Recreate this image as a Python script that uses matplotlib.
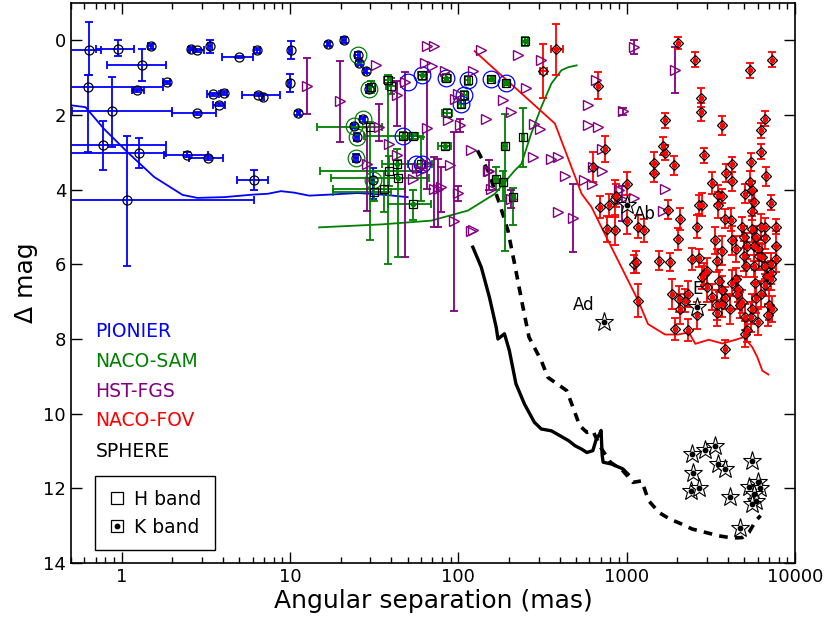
# Companion detections around the target: delta mag vs angular separation
# for the PIONIER, NACO-SAM, HST-FGS, NACO-FOV and SPHERE data sets.

import numpy as np
import matplotlib
matplotlib.use("Agg")
import matplotlib.pyplot as plt
from matplotlib.lines import Line2D

BLUE = "#0000ff"
GREEN = "#008000"
PURPLE = "#800080"
RED = "#ff0000"

# --- PIONIER (H band, open circles) ---
pio_sep = [0.64, 0.95, 1.49, 1.32, 0.63, 1.24, 1.85, 0.88, 2.79, 0.77,
           1.26, 2.46, 3.28, 1.08, 6.13, 2.57, 2.82, 3.34, 4.99, 6.36,
           10.1, 3.49, 4.06, 3.79, 6.42, 6.92, 10.0, 11.2, 16.9, 21.0,
           25.3, 25.8, 28.1, 29.6, 27.0, 24.0, 25.0, 24.6, 31.0]
pio_dmag = [0.25, 0.22, 0.16, 0.65, 1.25, 1.34, 1.12, 1.90, 1.95, 2.80,
            3.01, 3.06, 3.15, 4.29, 3.73, 0.22, 0.27, 0.16, 0.45, 0.27,
            0.27, 1.45, 1.41, 1.72, 1.46, 1.52, 1.14, 1.95, 0.09, 0.00,
            0.38, 0.61, 0.82, 1.30, 2.12, 2.30, 2.59, 3.15, 3.75]
pio_sep_lo = [0.44, 0.70, 1.44, 0.82, 0.40, 1.15, 1.75, 0.51, 2.00, 0.45,
              0.45, 1.79, 2.52, 0.45, 4.82, 2.50, 2.55, 3.25, 3.93, 6.10,
              9.9, 3.20, 3.90, 3.50, 5.22, 6.80, 9.8, 11.0, 16.5, 20.5,
              24.5, 25.3, 27.5, 28.5, 26.0, 23.5, 24.3, 24.0, 30.5]
pio_sep_hi = [0.75, 1.18, 1.54, 1.83, 1.75, 1.35, 1.95, 2.00, 3.63, 1.83,
              1.83, 3.24, 4.00, 6.10, 7.45, 2.65, 3.10, 3.45, 6.03, 6.60,
              10.3, 3.80, 4.20, 4.10, 8.70, 7.00, 10.2, 11.4, 17.3, 21.5,
              26.0, 26.3, 28.7, 30.5, 28.0, 24.5, 25.7, 25.2, 31.5]
pio_dmag_lo = [-0.49, 0.00, 0.10, 0.22, 0.94, 1.30, 1.08, 0.97, 1.91, 2.16,
               2.61, 3.00, 3.10, 2.55, 3.46, 0.18, 0.22, -0.02, 0.42, 0.20,
               0.03, 1.40, 1.36, 1.68, 1.42, 1.52, 0.90, 1.90, 0.04, -0.08,
               0.30, 0.55, 0.76, 1.20, 2.05, 2.25, 2.48, 3.05, 3.43]
pio_dmag_hi = [0.94, 0.42, 0.22, 1.09, 2.99, 1.38, 1.16, 2.86, 1.99, 3.47,
               3.41, 3.12, 3.20, 6.05, 4.01, 0.26, 0.32, 0.34, 0.48, 0.34,
               0.51, 1.50, 1.46, 1.76, 1.50, 1.52, 1.38, 2.00, 0.14, 0.08,
               0.46, 0.67, 0.88, 1.40, 2.20, 2.35, 2.70, 3.25, 4.24]

# PIONIER points also seen by NACO-SAM (green rings) and the reverse (blue rings)
ring_green_sep = [25.3, 29.6, 27.0, 24.0, 25.0, 24.6, 31.0]
ring_green_dmag = [0.38, 1.30, 2.12, 2.30, 2.59, 3.15, 3.75]
ring_blue_sep = [61, 50, 85, 114, 108, 104, 157, 193, 47, 56, 61]
ring_blue_dmag = [0.94, 1.12, 1.00, 1.07, 1.47, 1.70, 1.03, 1.13, 2.55, 3.31, 3.31]

# --- NACO-SAM (squares) ---
sam_sep = [38, 40, 30, 47, 54, 43, 38.5, 44, 36, 54,
           60, 61, 85, 114, 108, 104, 86, 83, 157, 193,
           250, 241, 190, 168, 185, 211, 30.5, 31.5]
sam_dmag = [1.05, 1.22, 2.32, 2.55, 2.57, 3.32, 3.49, 3.70, 3.98, 4.38,
            3.31, 0.94, 1.00, 1.07, 1.47, 1.70, 1.95, 2.84, 1.03, 1.13,
            0.02, 2.59, 2.84, 3.71, 3.80, 4.20, 1.25, 4.05]
sam_k = [0, 0, 0, 1, 0, 1, 0, 1, 0, 1,
         0, 1, 1, 0, 0, 0, 0, 1, 1, 1,
         1, 0, 0, 0, 1, 1, 0, 0]
sam_sep_lo = [36, 37, 14.5, 27.5, 50, 35, 15, 17.5, 18, 38,
              50, 58, 80, 110, 104, 100, 80, 76, 150, 186,
              240, 238, 185, 163, 180, 205, 29, 18]
sam_sep_hi = [40, 43, 35, 62, 58, 55, 60, 67, 48, 69,
              70, 64, 90, 118, 112, 108, 92, 90, 164, 200,
              260, 244, 195, 173, 190, 217, 32, 40]
sam_dmag_lo = [0.94, 1.00, 2.20, 2.45, 2.50, 2.90, 3.10, 3.20, 3.50, 4.00,
               2.60, 0.85, 0.90, 0.95, 1.35, 1.60, 1.85, 2.75, 0.95, 1.05,
               -0.10, 1.80, 1.96, 3.40, 3.50, 3.96, 1.10, 3.80]
sam_dmag_hi = [5.98, 1.45, 5.35, 2.65, 2.65, 3.70, 3.90, 5.80, 4.60, 4.80,
               4.30, 1.05, 1.10, 1.20, 1.60, 1.80, 2.05, 2.93, 1.10, 1.20,
               0.14, 3.40, 5.63, 4.00, 4.30, 4.94, 1.40, 4.30]

# --- HST-FGS (open triangles) ---
hst_sep = [12.7, 19.7, 32.6, 65, 72, 63, 70, 83, 122, 137,
           226, 253, 184, 206, 146, 102, 95, 99, 87, 65,
           43, 34, 39, 28.6, 43, 48, 54, 57, 60, 65,
           72, 79, 89, 94, 99, 122, 119, 153, 157, 206,
           283, 304, 277, 357, 390, 390, 1110, 1940, 311, 660,
           590, 950, 590, 680, 710, 430, 630, 710, 560, 620,
           1680, 480, 900, 940, 1100, 1650, 76, 119, 150]
hst_dmag = [1.21, 1.63, 0.67, 0.16, 0.16, 0.61, 0.70, 0.82, 0.82, 0.27,
            0.40, 1.27, 1.61, 1.92, 2.10, 2.28, 1.56, 1.43, 2.14, 2.34,
            1.47, 2.32, 2.77, 3.31, 3.07, 1.12, 3.71, 3.42, 3.51, 3.31,
            3.98, 3.93, 3.35, 4.83, 4.09, 5.09, 2.95, 3.49, 3.98, 4.24,
            2.23, 2.37, 3.13, 3.17, 3.13, 4.60, 0.18, 0.80, 0.54, 1.07,
            1.74, 1.88, 2.26, 2.31, 2.90, 3.64, 3.40, 3.49, 3.75, 3.84,
            3.98, 4.75, 4.00, 4.25, 4.22, 4.56, 3.98, 5.12, 3.49]
# HST-FGS error bars (lower / upper delta mag)
hst_bar_sep = [12.7, 19.7, 102, 43, 34, 28.6, 48, 65, 72, 79,
               94, 99, 153, 206, 1110, 1940, 950, 480, 940, 76]
hst_bar_lo = [0.46, 0.56, 2.10, 1.10, 1.70, 2.32, 0.85, 0.85, 3.13, 3.40,
              2.46, 3.90, 3.20, 4.00, 0.00, 0.18, 1.80, 3.84, 3.90, 3.17]
hst_bar_hi = [1.97, 2.73, 2.45, 2.30, 2.70, 4.56, 5.81, 3.98, 5.00, 4.60,
              7.24, 4.30, 4.00, 4.50, 0.37, 1.41, 2.00, 5.68, 4.85, 4.99]

# --- NACO-FOV (diamonds) ---
fov_sep = [380, 320, 680, 740, 630, 860, 760, 850, 850, 690,
           790, 1000, 1000, 1170, 1260, 1170, 1110, 2030, 2560, 5370,
           7310, 2760, 2760, 1680, 3700, 6620, 6260, 1650, 1680, 1460,
           1450, 1920, 2900, 4230, 3890, 4230, 3220, 5470, 6260, 6740,
           5400, 5580, 3500, 3700, 5060, 5680, 5580, 7200, 1750, 2080,
           2690, 2810, 3490, 3820, 4170, 2610, 4860, 6610, 7700, 2030,
           1560, 1800, 2460, 2700, 3330, 3700, 3450, 3010, 2900, 4240,
           4450, 5000, 5200, 5000, 5100, 5580, 5900, 5700, 6100, 5700,
           6600, 7200, 7700, 7700, 7200, 6600, 6300, 1860, 2040, 2210,
           2080, 2300, 1930, 2320, 2610, 3010, 3220, 3450, 3450, 3550,
           3700, 3700, 3850, 4100, 4200, 4450, 4600, 4500, 4700, 4860,
           5070, 5200, 5580, 5800, 5900, 6250, 6600, 6800, 7200, 7000,
           6400, 6000, 3850, 5070, 5500, 6000, 6900, 7300, 2810, 1140]
fov_dmag = [0.24, 0.83, 1.21, 2.90, 3.40, 4.16, 5.05, 5.09, 4.24, 4.47,
            4.42, 4.83, 3.84, 4.99, 5.09, 6.97, 5.99, 0.07, 0.52, 0.80,
            0.52, 1.54, 1.92, 2.14, 2.28, 2.10, 2.41, 2.83, 3.01, 3.28,
            3.55, 3.35, 3.08, 3.32, 3.55, 3.78, 3.82, 3.26, 2.99, 3.64,
            3.80, 4.02, 4.13, 4.17, 4.11, 4.33, 4.56, 4.35, 4.54, 4.78,
            4.40, 4.40, 4.40, 4.78, 4.80, 4.99, 4.99, 5.00, 4.99, 5.32,
            5.90, 5.94, 5.85, 5.83, 5.36, 5.63, 5.90, 6.17, 6.26, 5.36,
            5.58, 5.27, 5.50, 5.77, 6.04, 5.05, 5.27, 5.50, 5.77, 6.04,
            6.04, 6.22, 5.50, 5.85, 6.40, 5.30, 5.00, 6.79, 6.93, 6.97,
            7.19, 6.80, 7.73, 7.76, 7.37, 6.60, 6.88, 7.10, 7.30, 6.45,
            6.70, 7.05, 6.90, 7.20, 6.50, 6.40, 6.65, 6.80, 7.10, 7.00,
            7.42, 7.77, 7.20, 6.50, 6.90, 6.80, 6.55, 6.30, 6.00, 7.10,
            5.80, 5.60, 8.27, 7.86, 7.40, 7.55, 7.35, 7.20, 6.35, 5.94]
fov_err = [0.68, 0.72, 0.35, 0.35, 0.40, 0.30, 0.35, 0.40, 0.50, 0.30,
           0.30, 0.35, 0.30, 0.30, 0.30, 0.43, 0.25, 0.15, 0.20, 0.20,
           0.20, 0.25, 0.25, 0.20, 0.25, 0.20, 0.20, 0.25, 0.20, 0.30,
           0.25, 0.25, 0.20, 0.20, 0.25, 0.25, 0.30, 0.25, 0.20, 0.25,
           0.30, 0.25, 0.25, 0.20, 0.25, 0.30, 0.25, 0.20, 0.25, 0.30,
           0.25, 0.30, 0.35, 0.25, 0.30, 0.30, 0.25, 0.25, 0.20, 0.30,
           0.25, 0.25, 0.30, 0.25, 0.35, 0.40, 0.30, 0.35, 0.30, 0.40,
           0.35, 0.30, 0.35, 0.40, 0.30, 0.35, 0.30, 0.40, 0.35, 0.30,
           0.35, 0.30, 0.40, 0.35, 0.30, 0.30, 0.35, 0.40, 0.35, 0.30,
           0.40, 0.35, 0.30, 0.30, 0.35, 0.40, 0.35, 0.40, 0.35, 0.30,
           0.40, 0.35, 0.30, 0.40, 0.35, 0.30, 0.35, 0.40, 0.35, 0.30,
           0.35, 0.30, 0.40, 0.35, 0.40, 0.35, 0.30, 0.35, 0.30, 0.40,
           0.35, 0.30, 0.25, 0.35, 0.40, 0.35, 0.30, 0.35, 0.30, 0.30]
fov_k = [1, 0, 1, 1, 1, 1, 1, 1, 0, 1,
         1, 1, 1, 1, 1, 1, 0, 1, 1, 1,
         1, 1, 1, 1, 1, 1, 1, 1, 1, 1,
         1, 1, 1, 1, 1, 1, 1, 1, 1, 1,
         1, 1, 1, 1, 1, 1, 1, 1, 1, 1,
         1, 1, 1, 1, 1, 1, 1, 1, 1, 1,
         1, 1, 1, 1, 1, 1, 1, 1, 1, 1,
         1, 1, 1, 1, 1, 1, 1, 1, 1, 1,
         1, 1, 1, 1, 1, 1, 1, 1, 1, 1,
         1, 1, 1, 1, 1, 1, 1, 1, 1, 1,
         1, 1, 1, 1, 1, 1, 1, 1, 1, 1,
         1, 1, 1, 1, 1, 1, 1, 1, 1, 1,
         1, 1, 1, 1, 1, 1, 1, 1, 1, 1]
fov_xbar_sep = [380, 320]
fov_xbar_lo = [355, 305]
fov_xbar_hi = [420, 335]

# --- SPHERE (stars, K band) ---
sph_sep = [1000, 730, 2610, 2450, 2940, 3330, 3500, 3850, 5580, 2480,
           2420, 2680, 4120, 5330, 6060, 6240, 5700, 5850, 5580, 4700]
sph_dmag = [4.40, 7.55, 7.15, 11.08, 10.97, 10.86, 11.35, 11.48, 11.26, 11.60,
            12.06, 11.99, 12.22, 11.97, 11.84, 11.99, 12.15, 12.33, 12.42, 13.05]
star_names = ["Ab", "Ad", "E"]
star_label_sep = [1275, 552, 2650]
star_label_dmag = [4.65, 7.10, 6.66]

# --- detection limits ---
pio_curve_sep = [0.5, 0.61, 0.785, 1.08, 1.56, 2.30, 2.82, 4.06, 6.13, 7.38,
                 8.84, 10.6, 13.0, 17.5, 25.3, 34.8, 50]
pio_curve_dmag = [1.74, 1.79, 2.37, 2.99, 3.66, 4.14, 4.22, 4.20, 4.13, 4.11,
                  4.04, 4.08, 4.16, 4.13, 4.09, 4.13, 4.20]
sam_curve_sep = [14.9, 35, 69, 114, 165, 216, 237, 271, 311, 357, 410, 450, 505]
sam_curve_dmag = [5.01, 4.93, 4.83, 4.56, 4.11, 3.49, 3.31, 2.50, 1.79, 1.16, 0.80, 0.72, 0.67]
fov_curve_sep = [125, 375, 540, 619, 775, 1170, 1340, 1690, 2030, 2340,
                 2560, 3070, 3700, 4450, 4970, 5580, 5980, 6400, 6950]
fov_curve_dmag = [0.29, 2.23, 4.11, 4.47, 5.36, 6.97, 7.60, 7.88, 7.88, 7.82,
                  8.13, 8.02, 8.12, 8.02, 7.95, 8.22, 8.49, 8.85, 8.95]
sph_solid_sep = [122, 137, 153, 168, 172, 188, 201, 220, 247, 283,
                 311, 357, 391, 451, 494, 540, 580, 630, 660, 690,
                 705, 715, 725, 815, 950, 1020]
sph_solid_dmag = [5.54, 6.08, 6.88, 7.69, 8.00, 7.86, 8.31, 9.20, 9.74, 10.23,
                  10.41, 10.46, 10.56, 10.72, 10.86, 10.95, 11.04, 10.99, 10.68, 10.55,
                  10.45, 11.10, 11.30, 11.35, 11.48, 11.62]
sph_dash_sep = [130, 150, 176, 197, 216, 240, 263, 311, 341, 400,
                440, 480, 526, 580, 630, 700, 800, 950, 1090, 1230,
                1350, 1560, 1800, 2130, 2450, 2940, 3500, 4240, 4860, 5330,
                5850, 6250]
sph_dash_dmag = [2.95, 3.49, 4.38, 5.09, 5.99, 7.06, 7.95, 8.58, 9.03, 9.25,
                 9.38, 9.83, 10.32, 10.50, 10.46, 10.90, 11.30, 11.53, 11.84, 11.80,
                 12.33, 12.65, 12.82, 12.96, 13.09, 13.18, 13.27, 13.33, 13.32, 13.18,
                 12.87, 12.73]


def draw_bars(ax, sep, dmag, sep_lo, sep_hi, dmag_lo, dmag_hi, color):
    """Error bars, x and y drawn separately so zero-size bars are skipped."""
    sep, dmag = np.asarray(sep, float), np.asarray(dmag, float)
    sep_lo, sep_hi = np.asarray(sep_lo, float), np.asarray(sep_hi, float)
    dmag_lo, dmag_hi = np.asarray(dmag_lo, float), np.asarray(dmag_hi, float)
    style = dict(fmt="none", ecolor=color, elinewidth=1.3, capsize=3.2,
                 capthick=1.3, zorder=3)
    mx = sep_hi > sep_lo
    ax.errorbar(sep[mx], dmag[mx],
                xerr=[sep[mx] - sep_lo[mx], sep_hi[mx] - sep[mx]], **style)
    my = dmag_hi > dmag_lo
    ax.errorbar(sep[my], dmag[my],
                yerr=[dmag[my] - dmag_lo[my], dmag_hi[my] - dmag[my]], **style)


def draw_points(ax, sep, dmag, kband, color, marker, ms, edge):
    sep, dmag = np.asarray(sep, float), np.asarray(dmag, float)
    k = np.asarray(kband, bool)
    ax.plot(sep, dmag, ls="none", marker=marker, ms=ms, mfc="none",
            mec=edge, mew=0.9, zorder=5)
    ax.plot(sep[k], dmag[k], ls="none", marker="o", ms=3.0, color=color,
            zorder=6)


fig = plt.figure(figsize=(8.3, 6.25), dpi=100)
ax = fig.add_axes([0.0855, 0.0992, 0.8723, 0.896])

# detection limit curves
ax.plot(pio_curve_sep, pio_curve_dmag, color=BLUE, lw=1.3, zorder=2)
ax.plot(sam_curve_sep, sam_curve_dmag, color=GREEN, lw=1.3, zorder=2)
ax.plot(fov_curve_sep, fov_curve_dmag, color=RED, lw=1.3, zorder=2)
ax.plot(sph_solid_sep, sph_solid_dmag, color="black", lw=2.4, zorder=2)
ax.plot(sph_dash_sep, sph_dash_dmag, color="black", lw=2.6,
        dashes=(2.4, 2.0), zorder=2)

# PIONIER
draw_bars(ax, pio_sep, pio_dmag, pio_sep_lo, pio_sep_hi,
          pio_dmag_lo, pio_dmag_hi, BLUE)
draw_points(ax, pio_sep, pio_dmag, [0] * len(pio_sep), BLUE, "o", 6.5, "black")

# NACO-SAM
draw_bars(ax, sam_sep, sam_dmag, sam_sep_lo, sam_sep_hi,
          sam_dmag_lo, sam_dmag_hi, GREEN)
draw_points(ax, sam_sep, sam_dmag, sam_k, GREEN, "s", 6.2, "black")

# rings marking common detections
ax.plot(ring_green_sep, ring_green_dmag, ls="none", marker="o", ms=12,
        mfc="none", mec=GREEN, mew=0.9, zorder=4)
ax.plot(ring_blue_sep, ring_blue_dmag, ls="none", marker="o", ms=12,
        mfc="none", mec=BLUE, mew=0.9, zorder=4)

# HST-FGS
bar_mid = (np.array(hst_bar_lo) + np.array(hst_bar_hi)) / 2
bar_half = (np.array(hst_bar_hi) - np.array(hst_bar_lo)) / 2
ax.errorbar(hst_bar_sep, bar_mid, yerr=bar_half, fmt="none", ecolor=PURPLE,
            elinewidth=1.3, capsize=3.2, capthick=1.3, zorder=3)
ax.plot(hst_sep, hst_dmag, ls="none", marker=">", ms=7, mfc="none",
        mec=PURPLE, mew=1.0, zorder=5)

# NACO-FOV
ax.errorbar(fov_sep, fov_dmag, yerr=fov_err, fmt="none", ecolor=RED,
            elinewidth=1.3, capsize=3.2, capthick=1.3, zorder=3)
ax.errorbar(fov_xbar_sep, fov_dmag[:2],
            xerr=[np.array(fov_xbar_sep) - np.array(fov_xbar_lo),
                  np.array(fov_xbar_hi) - np.array(fov_xbar_sep)],
            fmt="none", ecolor=RED, elinewidth=1.3, capsize=3.2,
            capthick=1.3, zorder=3)
draw_points(ax, fov_sep, fov_dmag, fov_k, RED, "D", 5.6, "black")

# SPHERE
ax.plot(sph_sep, sph_dmag, ls="none", marker="*", ms=14, mfc="white",
        mec="black", mew=0.8, zorder=7)
ax.plot(sph_sep, sph_dmag, ls="none", marker="o", ms=3.2, color="black",
        zorder=8)
for name, s, d in zip(star_names, star_label_sep, star_label_dmag):
    ax.text(s, d, name, fontsize=12, ha="center", va="center", zorder=9)

# axes
ax.set_xscale("log")
ax.set_xlim(0.5, 10000)
ax.set_ylim(14, -1)
ax.set_yticks(np.arange(0, 15, 2))
ax.set_xticks([1, 10, 100, 1000, 10000])
ax.set_xticklabels(["1", "10", "100", "1000", "10000"])
ax.tick_params(which="both", direction="in", top=True, right=True,
               labelsize=13)
ax.tick_params(which="major", length=8, width=1)
ax.tick_params(which="minor", length=4, width=1)
for sp in ax.spines.values():
    sp.set_linewidth(1.2)
ax.set_xlabel("Angular separation (mas)", fontsize=18, labelpad=2)
ax.set_ylabel("Δ mag", fontsize=18, labelpad=4)

# instrument names
names = ["PIONIER", "NACO-SAM", "HST-FGS", "NACO-FOV", "SPHERE"]
colors = [BLUE, GREEN, PURPLE, RED, "black"]
ypos = [0.413, 0.359, 0.306, 0.254, 0.199]
for n, c, y in zip(names, colors, ypos):
    ax.text(0.034, y, n, color=c, fontsize=13.5, transform=ax.transAxes,
            ha="left", va="center")

# band legend
h_band = Line2D([], [], ls="none", marker="s", ms=8, mfc="white",
                mec="black", mew=0.9)
k_box = Line2D([], [], ls="none", marker="s", ms=8, mfc="white",
               mec="black", mew=0.9)
k_dot = Line2D([], [], ls="none", marker="o", ms=3.2, color="black")
leg = ax.legend([h_band, (k_box, k_dot)], ["H band", "K band"],
                loc="lower left", bbox_to_anchor=(0.033, 0.023),
                borderaxespad=0, fancybox=False, edgecolor="black",
                framealpha=1, fontsize=13.5, handlelength=1.0,
                handletextpad=0.4, labelspacing=0.5, borderpad=0.7,
                numpoints=1)
leg.get_frame().set_linewidth(1.0)
leg.set_zorder(10)

fig.savefig("out.png", dpi=100)
